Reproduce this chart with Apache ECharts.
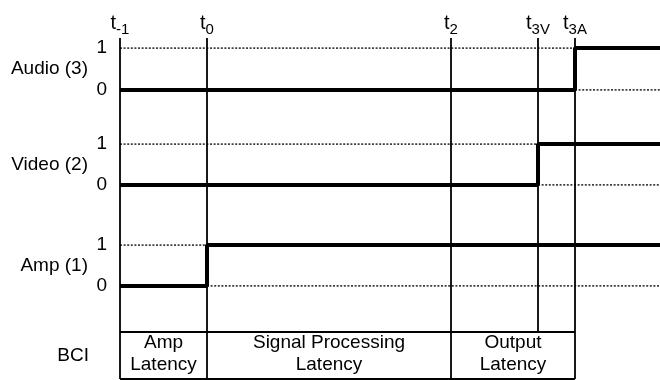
<!DOCTYPE html>
<html>
<head>
<meta charset="utf-8">
<script src="https://cdn.jsdelivr.net/npm/echarts@6/dist/echarts.min.js"></script>
<style>html,body{margin:0;padding:0;background:#fff;}#c{width:660px;height:380px;}</style>
</head>
<body>
<div id="c"></div>
<script>
// ---- data ----
const timeSubscripts = ['-1', '0', '2', '3V', '3A'];
const timeValues = [0, 87, 331, 418, 455];
const timeEnd = 540;
const signalNames = ['Audio (3)', 'Video (2)', 'Amp (1)'];
const signalStepTimes = [455, 418, 87];
const levelValues = [0, 1];
const bciName = 'BCI';
const bciLabels = ['Amp\nLatency', 'Signal Processing\nLatency', 'Output\nLatency'];
const bciStarts = [0, 87, 331];
const bciEnds = [87, 331, 455];
const overlayFullLines = [0, 87, 331, 455];

// ---- layout ----
const FONT = 'Liberation Sans';
const signalGrids = [
  { top: 48, height: 42 },
  { top: 144, height: 41 },
  { top: 245, height: 41 }
];
const grids = [
  { left: 120, right: 0, top: 38, height: 294 },
  ...signalGrids.map(g => ({ left: 120, right: 0, top: g.top, height: g.height })),
  { left: 120, right: 0, top: 332, height: 47 }
];

const xAxes = grids.map((g, i) => ({
  gridIndex: i, type: 'value', min: 0, max: timeEnd,
  position: 'top',
  axisLine: { show: false }, axisTick: { show: false }, splitLine: { show: false },
  axisLabel: i === 0 ? {
    show: true,
    customValues: timeValues,
    margin: 4,
    fontFamily: FONT, fontSize: 20, color: '#000',
    formatter: function (v) {
      const k = timeValues.indexOf(v);
      return k < 0 ? '' : '{a|t}{b|' + timeSubscripts[k] + '}';
    },
    rich: {
      a: { fontFamily: FONT, fontSize: 20, color: '#000', lineHeight: 21, verticalAlign: 'top' },
      b: { fontFamily: FONT, fontSize: 15, color: '#000', lineHeight: 15, padding: [9, 0, 0, 0], verticalAlign: 'top' }
    }
  } : { show: false }
}));

const nameStyle = { fontFamily: FONT, fontSize: 19, color: '#000', align: 'right', verticalAlign: 'middle' };
const yAxes = grids.map((g, i) => {
  const base = {
    gridIndex: i, type: 'value', min: 0, max: 1, interval: 1,
    axisLine: { show: false }, axisTick: { show: false }, splitLine: { show: false }
  };
  if (i >= 1 && i <= 3) {
    return Object.assign(base, {
      name: signalNames[i - 1], nameLocation: 'middle', nameRotate: 0, nameGap: 32,
      nameTextStyle: nameStyle,
      axisLabel: { show: true, margin: 13, fontFamily: FONT, fontSize: 19, color: '#000',
        customValues: levelValues, formatter: v => String(v) }
    });
  }
  if (i === 4) {
    return Object.assign(base, {
      name: bciName, nameLocation: 'middle', nameRotate: 0, nameGap: 31,
      nameTextStyle: nameStyle, axisLabel: { show: false }
    });
  }
  return Object.assign(base, { axisLabel: { show: false } });
});

const series = [];
const thin = { color: '#000', width: 1.8, type: 'solid' };

// vertical time lines over the signal area
series.push({
  type: 'line', xAxisIndex: 0, yAxisIndex: 0, data: [], silent: true, z: 1,
  markLine: { symbol: 'none', silent: true, animation: false, label: { show: false },
    lineStyle: thin, data: timeValues.map(t => ({ xAxis: t })) }
});

// signals
signalStepTimes.forEach((ts, i) => {
  const ax = i + 1;
  const dotted = { color: '#000', width: 1.5, type: [2, 1.6] };
  series.push({ type: 'line', xAxisIndex: ax, yAxisIndex: ax, symbol: 'none', silent: true, z: 2,
    lineStyle: dotted, data: [[timeValues[0], 1], [ts, 1]] });
  series.push({ type: 'line', xAxisIndex: ax, yAxisIndex: ax, symbol: 'none', silent: true, z: 2,
    lineStyle: dotted, data: [[ts, 0], [timeEnd, 0]] });
  series.push({ type: 'line', xAxisIndex: ax, yAxisIndex: ax, symbol: 'none', silent: true, z: 5,
    lineStyle: { color: '#000', width: 4 },
    data: [[timeValues[0], 0], [ts, 0], [ts, 1], [timeEnd, 1]] });
});

// BCI box
const last = bciEnds[bciEnds.length - 1];
series.push({
  type: 'line', xAxisIndex: 4, yAxisIndex: 4, data: [], silent: true, z: 1,
  markLine: { symbol: 'none', silent: true, animation: false, label: { show: false },
    lineStyle: thin,
    data: [
      ...overlayFullLines.map(t => ({ xAxis: t })),
      [{ coord: [bciStarts[0], 1] }, { coord: [last, 1] }],
      [{ coord: [bciStarts[0], 0] }, { coord: [last, 0] }]
    ] }
});
series.push({
  type: 'custom', xAxisIndex: 4, yAxisIndex: 4, silent: true, z: 6,
  data: bciLabels.map((l, i) => [bciStarts[i], bciEnds[i], i]),
  renderItem: function (params, api) {
    const s = api.value(0), e = api.value(1), k = api.value(2);
    const p = api.coord([(s + e) / 2, 0.5]);
    return { type: 'text', x: p[0], y: p[1] - 1.5,
      style: { text: bciLabels[k], align: 'center', verticalAlign: 'middle',
        fontFamily: FONT, fontSize: 19, lineHeight: 22, fill: '#000' } };
  }
});

const chart = echarts.init(document.getElementById('c'), null, { renderer: 'canvas' });
chart.setOption({
  animation: false,
  backgroundColor: '#fff',
  grid: grids,
  xAxis: xAxes,
  yAxis: yAxes,
  series: series
});
</script>
</body>
</html>
